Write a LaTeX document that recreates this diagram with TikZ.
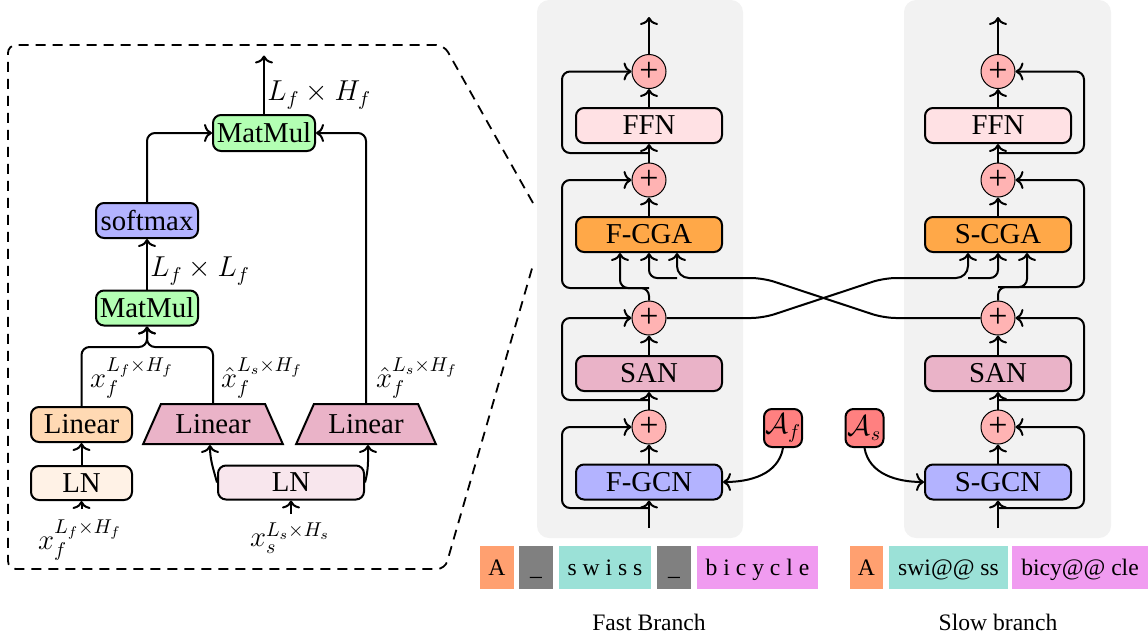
\documentclass[tikz,border=0pt]{standalone}
\usepackage{fontspec}
\setmainfont{Liberation Serif}
\usetikzlibrary{arrows.meta,shapes.geometric,calc}
\definecolor{cmm}{RGB}{179,255,179}
\definecolor{csm}{RGB}{179,179,255}
\definecolor{clin}{RGB}{255,217,179}
\definecolor{clnf}{RGB}{255,242,230}
\definecolor{csan}{RGB}{234,179,200}
\definecolor{clns}{RGB}{248,230,237}
\definecolor{cffn}{RGB}{255,225,228}
\definecolor{ccga}{RGB}{255,168,72}
\definecolor{cgcn}{RGB}{179,179,255}
\definecolor{cadd}{RGB}{255,179,179}
\definecolor{cadj}{RGB}{255,128,128}
\definecolor{cpanel}{RGB}{242,242,242}
\definecolor{ctA}{RGB}{255,160,112}
\definecolor{ctU}{RGB}{128,128,128}
\definecolor{ctS}{RGB}{155,225,215}
\definecolor{ctB}{RGB}{240,155,240}
\begin{document}
\begin{tikzpicture}[x=0.5pt,y=-0.5pt,
 bf/.style={font=\fontsize{14.4}{17}\selectfont},
 blk/.style={draw,line width=1pt,rounded corners=4pt,minimum width=73pt,minimum height=17.5pt,inner sep=0pt,bf},
 lblk/.style={blk,minimum width=51pt},
 addc/.style={circle,draw,line width=0.5pt,fill=cadd,minimum size=17pt,inner sep=0pt,font=\fontsize{17}{18}\selectfont},
 adj/.style={draw,line width=1pt,rounded corners=4pt,fill=cadj,minimum size=19pt,inner sep=0pt,bf},
 trap/.style={trapezium,trapezium left angle=60,trapezium right angle=60,trapezium stretches=true,draw,line width=1pt,fill=csan,minimum width=70pt,minimum height=20pt,inner sep=1pt,bf},
 tok/.style={minimum height=21.5pt,inner sep=0pt,text height=9.5pt,text depth=2pt,font=\fontsize{11.8}{14}\selectfont},
 lab/.style={font=\fontsize{11.8}{14}\selectfont},
 arr/.style={line width=1pt,-{Computer Modern Rightarrow[length=4pt,width=9pt]}},
 ln/.style={line width=1pt},
 rc/.style={rounded corners=4pt},
 mlab/.style={bf,inner sep=1pt}
]
\useasboundingbox (0,0) rectangle (1148,639);

% grey panels
\fill[cpanel,rounded corners=6pt] (537,0) rectangle (743,538);
\fill[cpanel,rounded corners=6pt] (904,0) rectangle (1111,538);

% dashed zoom outline
\draw[line width=0.9pt,dash pattern=on 5pt off 3.5pt,rounded corners=4pt]
  (533,203) -- (444,45) -- (8,45) -- (8,569) -- (445,569) -- (533,265);

% ---------------- fast branch ----------------
\node[addc] (f1) at (649,71.5) {+};
\node[blk,fill=cffn] (fffn) at (649,125.5) {FFN};
\node[addc] (f2) at (649,180) {+};
\node[blk,fill=ccga] (fcga) at (649,234.5) {F-CGA};
\node[addc] (f3) at (649,318) {+};
\node[blk,fill=csan] (fsan) at (649,373.5) {SAN};
\node[addc] (f4) at (649,427) {+};
\node[blk,fill=cgcn] (fgcn) at (649,482) {F-GCN};

\coordinate (fout) at (649,17);
\coordinate (fin) at (649,528);
\coordinate (fj4) at (649,508);
\coordinate (fj3) at (649,400);
\coordinate (fj2) at (649,288);
\coordinate (fj1) at (649,153);
\coordinate (fa1) at (620,288);
\coordinate (fc1) at (649,278);
\coordinate (fc2) at (677,278);

\draw[arr] (fin) -- (fgcn.south);
\draw[arr,rc] (fj4) -- (562,508) -- (562,427) -- (f4.west);
\draw[arr] (fgcn.north) -- (f4.south);
\draw[arr] (f4.north) -- (fsan.south);
\draw[arr,rc] (fj3) -- (562,400) -- (562,318) -- (f3.west);
\draw[arr] (fsan.north) -- (f3.south);
\draw[arr,rc] (f3.north) -- (fj2) -- (562,288) -- (562,180) -- (f2.west);
\draw[arr,rc] (fj2) -- (fa1) -- (fa1 |- fcga.south);
\draw[arr] (fcga.north) -- (f2.south);
\draw[arr] (f2.north) -- (fffn.south);
\draw[arr,rc] (fj1) -- (562,153) -- (562,71.5) -- (f1.west);
\draw[arr] (fffn.north) -- (f1.south);
\draw[arr] (f1.north) -- (fout);

% ---------------- slow branch ----------------
\node[addc] (s1) at (998,71.5) {+};
\node[blk,fill=cffn] (sffn) at (998,125.5) {FFN};
\node[addc] (s2) at (998,180) {+};
\node[blk,fill=ccga] (scga) at (998,234.5) {S-CGA};
\node[addc] (s3) at (998,318) {+};
\node[blk,fill=csan] (ssan) at (998,373.5) {SAN};
\node[addc] (s4) at (998,427) {+};
\node[blk,fill=cgcn] (sgcn) at (998,482) {S-GCN};

\coordinate (sout) at (998,17);
\coordinate (sin) at (998,528);
\coordinate (sj4) at (998,508);
\coordinate (sj3) at (998,400);
\coordinate (sj2) at (998,287);
\coordinate (sj1) at (998,153);
\coordinate (sa1) at (1027,287);
\coordinate (sc1) at (968,278);
\coordinate (sc2) at (998,278);

\draw[arr] (sin) -- (sgcn.south);
\draw[arr,rc] (sj4) -- (1084,508) -- (1084,427) -- (s4.east);
\draw[arr] (sgcn.north) -- (s4.south);
\draw[arr] (s4.north) -- (ssan.south);
\draw[arr,rc] (sj3) -- (1084,400) -- (1084,318) -- (s3.east);
\draw[arr] (ssan.north) -- (s3.south);
\draw[arr,rc] (s3.north) -- (sj2) -- (1084,287) -- (1084,180) -- (s2.east);
\draw[arr,rc] (sj2) -- (sa1) -- (sa1 |- scga.south);
\draw[arr] (scga.north) -- (s2.south);
\draw[arr] (s2.north) -- (sffn.south);
\draw[arr,rc] (sj1) -- (1084,153) -- (1084,71.5) -- (s1.east);
\draw[arr] (sffn.north) -- (s1.south);
\draw[arr] (s1.north) -- (sout);

% ---------------- cross connections ----------------
\draw[arr,rounded corners=6pt] (s3.west) -- (884,318) -- (763,278) -- (fc2) -- (fc2 |- fcga.south);
\draw[arr,rc] (fc2) -- (fc1) -- (fcga.south);
\draw[arr,rounded corners=6pt] (f3.east) -- (763,318) -- (884,278) -- (sc1) -- (sc1 |- scga.south);
\draw[arr,rc] (sc1) -- (sc2) -- (scga.south);

% adjacency
\node[adj] (af) at (783,428) {$\mathcal{A}_f$};
\node[adj] (as) at (864.5,428) {$\mathcal{A}_s$};
\draw[arr] (af.south) to[out=-100,in=0] (fgcn.east);
\draw[arr] (as.south) to[out=-80,in=180] (sgcn.west);

% tokens
\node[tok,fill=ctA,minimum width=17pt] (t01) at (497,567.5) {A};
\node[tok,fill=ctU,minimum width=17pt] (t02) at (536,567.5) {\_};
\node[tok,fill=ctS,minimum width=46pt] (t03) at (605,567.5) {s w i s s};
\node[tok,fill=ctU,minimum width=17pt] (t04) at (674,567.5) {\_};
\node[tok,fill=ctB,minimum width=60.5pt] (t05) at (757.5,567.5) {b i c y c l e};
\node[tok,fill=ctA,minimum width=16.5pt] (t11) at (866.5,567.5) {A};
\node[tok,fill=ctS,minimum width=59.5pt] (t12) at (948.5,567.5) {swi@@ ss};
\node[tok,fill=ctB,minimum width=68pt] (t13) at (1080,567.5) {bicy@@ cle};
\node[lab] (lf) at (649,622) {Fast Branch};
\node[lab] (ls) at (998,622) {Slow branch};

% ---------------- left zoom panel ----------------
\node[lblk,fill=cmm,minimum height=18pt] (mm1) at (264,133) {MatMul};
\node[lblk,fill=csm] (sm) at (147,220.5) {softmax};
\node[lblk,fill=cmm] (mm2) at (147,308) {MatMul};
\node[lblk,fill=clin,minimum width=50.5pt] (linf) at (81.5,424.5) {Linear};
\node[lblk,fill=clnf,minimum width=50.5pt,minimum height=17pt] (lnf) at (81.5,483) {LN};
\node[trap] (t1) at (213,424) {Linear};
\node[trap] (t2) at (366,424) {Linear};
\node[blk,fill=clns,minimum height=17pt] (lns) at (291,482.5) {LN};

\coordinate (o1) at (264,55.5);
\coordinate (jm) at (147,347);
\coordinate (if) at (81.5,509);
\coordinate (is) at (291,514);

\draw[arr] (mm1.north) -- (o1);
\node[mlab,anchor=west] (l1) at (265,95) {$L_f\times H_f$};
\draw[arr,rc] (sm.north) |- (mm1.west);
\draw[arr] (mm2.north) -- (sm.south);
\node[mlab,anchor=west] (l2) at (148,271) {$L_f\times L_f$};
\draw[arr,rc] (linf.north) |- (jm) -- (mm2.south);
\draw[arr,rc] (t1.north) |- (jm) -- (mm2.south);
\draw[arr,rc] (t2.north) |- (mm1.east);
\draw[arr] (lnf.north) -- (linf.south);
\draw[arr] (if) -- (lnf.south);
\draw[arr] (is) -- (lns.south);
\draw[arr] (lns.west) to[out=105,in=-90] ($(t1.south)+(-3,0)$);
\draw[arr] (lns.east) to[out=75,in=-90] ($(t2.south)+(2,0)$);

\node[mlab] (xl1) at (132,378) {$x_f^{L_f\times H_f}$};
\node[mlab] (xl2) at (262,378) {$\hat{x}_f^{L_s\times H_f}$};
\node[mlab] (xl3) at (417,378) {$\hat{x}_f^{L_s\times H_f}$};
\node[mlab] (xf) at (80,540) {$x_f^{L_f\times H_f}$};
\node[mlab] (xs) at (290,538) {$x_s^{L_s\times H_s}$};
\end{tikzpicture}
\end{document}
